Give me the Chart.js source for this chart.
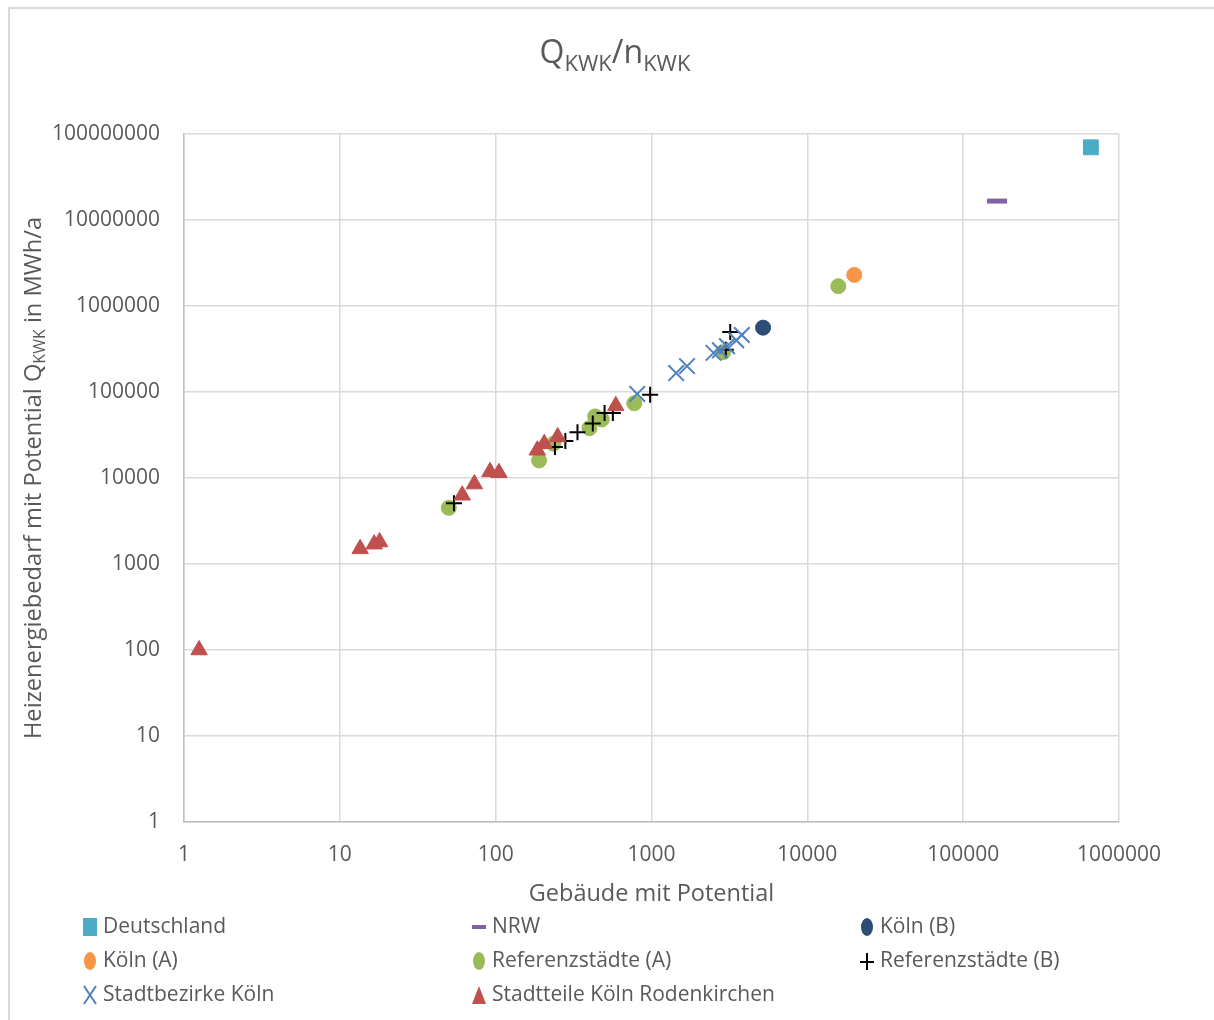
<!DOCTYPE html>
<html>
<head>
<meta charset="utf-8">
<script src="https://cdn.jsdelivr.net/npm/chart.js@4"></script>
<style>
html,body{margin:0;padding:0;background:#fff;}
#wrap{position:relative;width:1214px;height:1020px;}
canvas{display:block;}
</style>
</head>
<body>
<div id="wrap"><canvas id="c" width="1214" height="1020"></canvas></div>
<script>
// ---- data ----
const seriesNames = ["Deutschland","NRW","Köln (B)","Köln (A)","Referenzstädte (A)","Referenzstädte (B)","Stadtbezirke Köln","Stadtteile Köln Rodenkirchen"];
const deutschlandX = [660000];
const deutschlandY = [70000000];
const nrwX = [165000];
const nrwY = [16600000];
const koelnBX = [5200];
const koelnBY = [560000];
const koelnAX = [20000];
const koelnAY = [2300000];
const refAX = [50, 190, 235, 400, 435, 480, 775, 2880, 15800];
const refAY = [4500, 16000, 25000, 38000, 52000, 48000, 74000, 290000, 1700000];
const refBX = [54, 240, 280, 335, 420, 500, 565, 980, 3000, 3200];
const refBY = [5100, 23000, 27000, 34000, 43000, 57000, 57000, 93000, 310000, 500000];
const bezirkeX = [810, 1440, 1690, 2500, 2750, 3050, 3500, 3800];
const bezirkeY = [95000, 166000, 200000, 285000, 305000, 340000, 400000, 460000];
const teileX = [1.25, 13.5, 16.6, 18, 61, 73, 92, 105, 185, 205, 250, 590];
const teileY = [100, 1500, 1700, 1800, 6300, 8500, 11800, 11500, 21000, 25000, 30000, 69000];
const xTicks = [1, 10, 100, 1000, 10000, 100000, 1000000];
const yTicks = [1, 10, 100, 1000, 10000, 100000, 1000000, 10000000, 100000000];

const FONT = "'Open Sans', sans-serif";
const TXT = '#595959';

function pts(xs, ys){ return xs.map((x,i)=>({x:x, y:ys[i]})); }

const styles = [
  {pointStyle:'rect', pointRadius:10.5, backgroundColor:'#4BACC6', borderColor:'#4BACC6', pointBorderWidth:1},
  {pointStyle:'line', pointRadius:10, backgroundColor:'#8064A2', borderColor:'#8064A2', pointBorderWidth:5},
  {pointStyle:'circle', pointRadius:7.5, backgroundColor:'#2C4D75', borderColor:'#2C4D75', pointBorderWidth:1},
  {pointStyle:'circle', pointRadius:7.5, backgroundColor:'#F79646', borderColor:'#F79646', pointBorderWidth:1},
  {pointStyle:'circle', pointRadius:7.5, backgroundColor:'#9BBB59', borderColor:'#9BBB59', pointBorderWidth:1},
  {pointStyle:'cross', pointRadius:8, backgroundColor:'#000000', borderColor:'#000000', pointBorderWidth:2},
  {pointStyle:'crossRot', pointRadius:11, backgroundColor:'#4F81BD', borderColor:'#4F81BD', pointBorderWidth:2},
  {pointStyle:'triangle', pointRadius:9.5, backgroundColor:'#C0504D', borderColor:'#C0504D', pointBorderWidth:1}
];
const dataList = [
  pts(deutschlandX, deutschlandY), pts(nrwX, nrwY), pts(koelnBX, koelnBY), pts(koelnAX, koelnAY),
  pts(refAX, refAY), pts(refBX, refBY), pts(bezirkeX, bezirkeY), pts(teileX, teileY)
];
const datasets = seriesNames.map((n,i)=>Object.assign({
  label:n, data:dataList[i], showLine:false, order: seriesNames.length - i,
  pointHoverRadius: styles[i].pointRadius
}, styles[i]));

// rich text helper
function richWidth(ctx, segs, size, subSize){
  let w=0;
  segs.forEach(s=>{ ctx.font = (s.sub?subSize:size)+'px '+FONT; w+=ctx.measureText(s.t).width; });
  return w;
}
function drawRich(ctx, segs, x, y, size, subSize, subDrop){
  ctx.textBaseline='alphabetic'; ctx.textAlign='left';
  segs.forEach(s=>{
    ctx.font = (s.sub?subSize:size)+'px '+FONT;
    ctx.fillText(s.t, x, y + (s.sub?subDrop:0));
    x += ctx.measureText(s.t).width;
  });
}

function drawMarker(ctx, st, x, y){
  ctx.save();
  ctx.fillStyle = st.backgroundColor; ctx.strokeStyle = st.borderColor;
  ctx.lineWidth = st.pointBorderWidth;
  ctx.beginPath();
  switch(st.pointStyle){
    case 'rect': ctx.rect(x-7,y-9,14,18); ctx.fill(); break;
    case 'line': ctx.lineWidth=4; ctx.moveTo(x-7,y); ctx.lineTo(x+7,y); ctx.stroke(); break;
    case 'circle': ctx.ellipse(x,y,6,9,0,0,Math.PI*2); ctx.fill(); break;
    case 'cross': ctx.lineWidth=2; ctx.moveTo(x-7,y+1); ctx.lineTo(x+7,y+1); ctx.moveTo(x,y-8); ctx.lineTo(x,y+9); ctx.stroke(); break;
    case 'crossRot': ctx.lineWidth=2; ctx.moveTo(x-6,y-9); ctx.lineTo(x+6,y+9); ctx.moveTo(x+6,y-9); ctx.lineTo(x-6,y+9); ctx.stroke(); break;
    case 'triangle': ctx.moveTo(x,y-9); ctx.lineTo(x+7,y+9); ctx.lineTo(x-7,y+9); ctx.closePath(); ctx.fill(); break;
  }
  ctx.restore();
}

const decor = {
  id:'decor',
  beforeDraw(chart){
    const ctx = chart.ctx;
    ctx.save();
    ctx.fillStyle='#fff'; ctx.fillRect(0,0,chart.width,chart.height);
    ctx.strokeStyle='#D9D9D9'; ctx.lineWidth=2;
    ctx.strokeRect(9,8,1300,1100);
    ctx.restore();
  },
  afterDraw(chart){
    const ctx = chart.ctx; const ca = chart.chartArea;
    ctx.save();
    ctx.fillStyle = TXT;
    // title
    const tsegs=[{t:'Q'},{t:'KWK',sub:true},{t:'/n'},{t:'KWK',sub:true}];
    const tw = richWidth(ctx,tsegs,32,22);
    drawRich(ctx,tsegs, 615 - tw/2, 63, 32, 22, 8);
    // x title
    ctx.font = '23.5px '+FONT; ctx.textAlign='center'; ctx.textBaseline='alphabetic';
    ctx.fillText('Gebäude mit Potential', (ca.left+ca.right)/2, 901);
    // y title
    const ysegs=[{t:'Heizenergiebedarf mit Potential Q'},{t:'KWK',sub:true},{t:' in MWh/a'}];
    ctx.save();
    ctx.translate(41, (ca.top+ca.bottom)/2);
    ctx.rotate(-Math.PI/2);
    const yw = richWidth(ctx,ysegs,23.7,16);
    drawRich(ctx,ysegs,-yw/2,0,23.7,16,4);
    ctx.restore();
    // legend
    const cols=[90,479,867], rows=[927,961,995];
    ctx.font='21px '+FONT; ctx.textAlign='left'; ctx.textBaseline='middle';
    seriesNames.forEach((n,i)=>{
      const cx=cols[i%3], cy=rows[Math.floor(i/3)];
      drawMarker(ctx, styles[i], cx, cy);
      ctx.fillStyle=TXT;
      ctx.fillText(n, cx+13, cy);
    });
    ctx.restore();
  }
};

new Chart(document.getElementById('c'), {
  type:'scatter',
  data:{datasets:datasets},
  plugins:[decor],
  options:{
    responsive:false, animation:false, devicePixelRatio:1,
    layout:{padding:{top:134, right:95, left:0, bottom:0}},
    plugins:{legend:{display:false}, title:{display:false}, tooltip:{enabled:false}},
    scales:{
      x:{type:'logarithmic', min:1, max:1000000,
        afterBuildTicks(s){ s.ticks = xTicks.map(v=>({value:v})); },
        afterFit(s){ s.height = 198; },
        grid:{color:'#D9D9D9', lineWidth:1.5, drawTicks:false},
        border:{color:'#BFBFBF', width:1.5},
        ticks:{color:TXT, font:{family:FONT, size:21}, padding:20, maxRotation:0, autoSkip:false,
          callback:(v)=>String(Math.round(v))}
      },
      y:{type:'logarithmic', min:1, max:100000000,
        afterBuildTicks(s){ s.ticks = yTicks.map(v=>({value:v})); },
        afterFit(s){ s.width = 184; },
        grid:{color:'#D9D9D9', lineWidth:1.5, drawTicks:false},
        border:{color:'#BFBFBF', width:1.5},
        ticks:{color:TXT, font:{family:FONT, size:21}, padding:24, autoSkip:false,
          callback:(v)=>String(Math.round(v))}
      }
    }
  }
});
</script>
</body>
</html>
